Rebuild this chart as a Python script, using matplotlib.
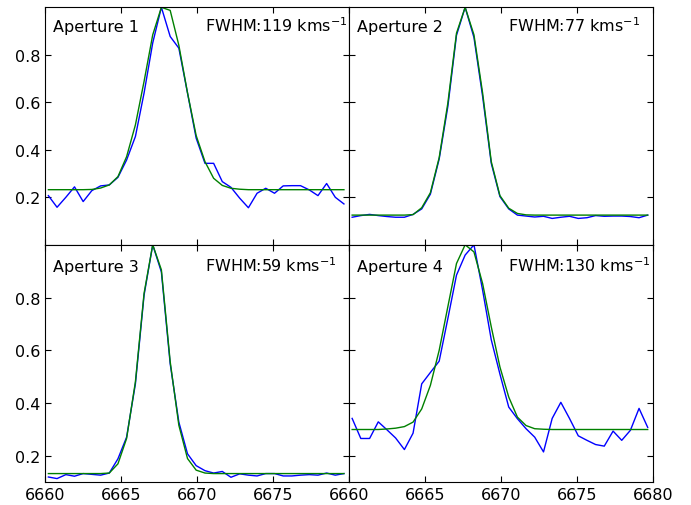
import matplotlib
matplotlib.use('Agg')
import matplotlib.pyplot as plt
from matplotlib import rcParams

rcParams['font.family'] = ['DejaVu Sans']
rcParams['mathtext.fontset'] = 'dejavusans'
rcParams['xtick.direction'] = 'in'
rcParams['ytick.direction'] = 'in'
rcParams['xtick.top'] = True
rcParams['ytick.right'] = True

# wavelength grid (Angstrom)
wave = [6660.21, 6660.78, 6661.36, 6661.93, 6662.50, 6663.07, 6663.65, 6664.22,
        6664.79, 6665.36, 6665.94, 6666.51, 6667.08, 6667.65, 6668.23, 6668.80,
        6669.37, 6669.94, 6670.52, 6671.09, 6671.66, 6672.23, 6672.81, 6673.38,
        6673.95, 6674.52, 6675.10, 6675.67, 6676.24, 6676.81, 6677.39, 6677.96,
        6678.53, 6679.10, 6679.67]

# observed (normalised) profiles
flux1 = [0.207, 0.158, 0.200, 0.244, 0.182, 0.228, 0.248, 0.252, 0.284, 0.357,
         0.456, 0.639, 0.850, 1.000, 0.877, 0.828, 0.639, 0.449, 0.343, 0.343,
         0.266, 0.242, 0.196, 0.156, 0.217, 0.238, 0.217, 0.248, 0.249, 0.249,
         0.231, 0.207, 0.258, 0.200, 0.172]
flux2 = [0.116, 0.123, 0.128, 0.123, 0.119, 0.116, 0.116, 0.128, 0.151, 0.213,
         0.361, 0.582, 0.882, 1.000, 0.873, 0.625, 0.343, 0.203, 0.151, 0.125,
         0.121, 0.117, 0.120, 0.111, 0.116, 0.120, 0.111, 0.114, 0.123, 0.120,
         0.121, 0.121, 0.119, 0.114, 0.125]
flux3 = [0.120, 0.114, 0.129, 0.123, 0.133, 0.130, 0.127, 0.135, 0.189, 0.271,
         0.473, 0.809, 1.000, 0.897, 0.549, 0.328, 0.208, 0.163, 0.144, 0.135,
         0.141, 0.119, 0.132, 0.127, 0.124, 0.133, 0.133, 0.124, 0.124, 0.127,
         0.129, 0.127, 0.135, 0.127, 0.133]
flux4 = [0.342, 0.266, 0.266, 0.329, 0.299, 0.268, 0.224, 0.286, 0.473, 0.516,
         0.559, 0.720, 0.885, 0.961, 1.000, 0.828, 0.640, 0.510, 0.385, 0.341,
         0.303, 0.271, 0.215, 0.342, 0.403, 0.342, 0.276, 0.259, 0.243, 0.237,
         0.294, 0.259, 0.297, 0.380, 0.308]

# gaussian fits
fit1 = [0.232, 0.232, 0.232, 0.232, 0.232, 0.233, 0.239, 0.252, 0.287, 0.371,
        0.505, 0.688, 0.884, 1.000, 0.987, 0.840, 0.640, 0.460, 0.350, 0.280,
        0.250, 0.238, 0.234, 0.232, 0.232, 0.232, 0.232, 0.232, 0.232, 0.232,
        0.232, 0.232, 0.232, 0.232, 0.232]
fit2 = [0.125, 0.125, 0.125, 0.125, 0.125, 0.125, 0.125, 0.127, 0.156, 0.219,
        0.367, 0.596, 0.891, 1.000, 0.884, 0.639, 0.350, 0.207, 0.154, 0.132,
        0.126, 0.125, 0.125, 0.125, 0.125, 0.125, 0.125, 0.125, 0.125, 0.125,
        0.125, 0.125, 0.125, 0.125, 0.125]
fit3 = [0.133, 0.133, 0.133, 0.133, 0.133, 0.133, 0.133, 0.135, 0.170, 0.266,
        0.481, 0.816, 1.000, 0.905, 0.557, 0.316, 0.190, 0.146, 0.135, 0.133,
        0.133, 0.133, 0.133, 0.133, 0.133, 0.133, 0.133, 0.133, 0.133, 0.133,
        0.133, 0.133, 0.133, 0.133, 0.133]
fit4 = [0.300, 0.300, 0.300, 0.300, 0.302, 0.305, 0.311, 0.328, 0.378, 0.467,
        0.600, 0.765, 0.929, 1.000, 0.973, 0.853, 0.689, 0.537, 0.423, 0.347,
        0.315, 0.303, 0.301, 0.300, 0.300, 0.300, 0.300, 0.300, 0.300, 0.300,
        0.300, 0.300, 0.300, 0.300, 0.300]

labels = ['Aperture 1', 'Aperture 2', 'Aperture 3', 'Aperture 4']
fwhm = [119, 77, 59, 130]
fluxes = [flux1, flux2, flux3, flux4]
fits = [fit1, fit2, fit3, fit4]

xticks = [6660, 6665, 6670, 6675, 6680]
yticks = [0.2, 0.4, 0.6, 0.8]
ylims = [(0.0, 1.0), (0.0, 1.0), (0.1, 1.0), (0.1, 1.0)]

fig, axes = plt.subplots(2, 2, figsize=(6.91, 5.06), dpi=100)
fig.subplots_adjust(left=0.0654, right=0.9446, top=0.9836, bottom=0.0449,
                    wspace=0, hspace=0)

for i, ax in enumerate(axes.flat):
    ax.plot(wave, fluxes[i], color='b', linewidth=1.0)
    ax.plot(wave, fits[i], color='g', linewidth=1.0)
    ax.set_xlim(6660, 6680)
    ax.set_ylim(*ylims[i])
    ax.set_xticks(xticks)
    ax.set_yticks(yticks)
    ax.tick_params(labelsize=11.5, length=4, width=0.8, pad=3.4)
    ax.text(6660.5, 0.9, labels[i], fontsize=11.5, va='baseline')
    ax.text(6670.5, 0.9, 'FWHM:%d kms$^{-1}$' % fwhm[i], fontsize=11.5, va='baseline')
    if i < 2:
        ax.set_xticklabels([])
    if i % 2 == 1:
        ax.set_yticklabels([])

# left-bottom panel: drop the 6680 label (right panel shows 6660 there)
axes[1, 0].set_xticklabels(['6660', '6665', '6670', '6675', ''])

plt.savefig('out.png', dpi=100)
plt.close()
